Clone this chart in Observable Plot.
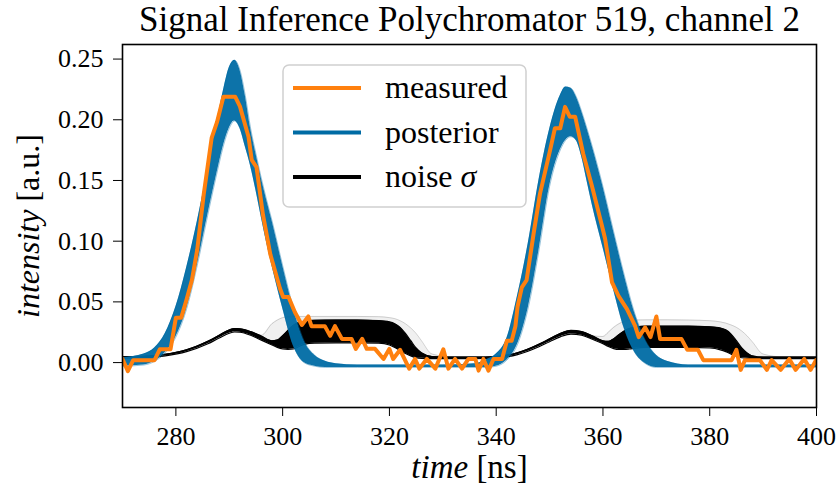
<!DOCTYPE html>
<html><head><meta charset="utf-8">
<script src="https://cdn.jsdelivr.net/npm/d3@7"></script>
<script src="https://cdn.jsdelivr.net/npm/@observablehq/plot@0.6"></script>
<style>
body{margin:0;background:#fff;}
#wrap{position:relative;width:837px;height:495px;}
</style></head><body><div id="wrap"></div><script>
// measured signal (time ns, intensity a.u.)
const measT=[270.0,271.0,272.0,276.0,277.0,279.0,280.0,281.0,282.0,283.0,284.0,285.2,286.7,287.7,288.9,291.1,292.0,293.6,294.2,295.1,296.3,297.7,299.5,300.1,301.1,302.3,303.6,304.8,305.4,307.9,308.9,309.8,311.1,312.9,313.7,314.9,315.75,317.3,318.9,320.0,320.7,322.0,323.7,324.8,325.6,327.0,328.6,330.1,331.05,332.3,333.6,334.8,336.1,336.7,337.6,338.55,339.5,341.1,342.0,342.9,343.6,344.0,344.8,345.7,347.0,348.2,350.1,351.0,352.0,352.9,353.8,354.8,356.3,357.9,359.8,360.4,361.7,362.9,364.5,366.0,366.7,367.9,368.9,370.0,370.7,374.7,375.8,377.8,378.8,384.1,385.0,385.8,386.6,389.4,390.7,391.6,393.3,394.9,396.1,397.7,398.9,399.9];
const measV=[0.003,-0.007,0.002,0.002,0.011,0.011,0.037,0.037,0.052,0.068,0.093,0.138,0.185,0.198,0.219,0.219,0.211,0.186,0.167,0.161,0.122,0.089,0.061,0.054,0.054,0.0415,0.031,0.038,0.030,0.030,0.022,0.030,0.0195,0.0195,0.0113,0.0195,0.0113,0.0113,0.003,0.0113,0.003,0.0105,-0.005,0.003,-0.005,0.003,-0.005,0.011,-0.005,0.003,-0.005,0.003,0.003,-0.0066,0.003,-0.0066,0.003,0.003,0.018,0.018,0.030,0.046,0.062,0.068,0.106,0.139,0.175,0.193,0.193,0.2106,0.2024,0.2024,0.172,0.146,0.113,0.102,0.066,0.055,0.044,0.0305,0.021,0.029,0.021,0.038,0.0195,0.0195,0.0105,0.0105,0.002,0.002,0.0105,-0.006,0.002,0.002,-0.006,0.002,-0.006,0.003,-0.006,0.003,-0.006,0.002];

// posterior sample envelope
const postT=[270,274,276,278,280,282,284,286,288,289,290,291,292,293,294,295,296,297,298,300,302,304,306,308,310,314,320,330,336,338,340,342,344,346,348,350,352,353,354,355,356,357,358,360,362,364,366,368,370,372,376,384,400];
const postHi=[0.004,0.007,0.012,0.024,0.046,0.078,0.116,0.160,0.205,0.226,0.243,0.249,0.241,0.220,0.193,0.172,0.152,0.134,0.117,0.080,0.045,0.018,0.006,0.001,-0.001,-0.002,-0.002,-0.002,-0.001,0.002,0.007,0.020,0.055,0.098,0.150,0.192,0.220,0.227,0.226,0.219,0.207,0.193,0.178,0.145,0.108,0.072,0.040,0.018,0.006,0.001,-0.002,-0.002,-0.002];
const postLo=[-0.003,-0.002,0.001,0.008,0.021,0.044,0.080,0.122,0.162,0.180,0.193,0.199,0.193,0.178,0.162,0.142,0.120,0.099,0.080,0.045,0.014,0.000,-0.003,-0.004,-0.004,-0.004,-0.004,-0.004,-0.004,-0.004,-0.003,0.002,0.015,0.045,0.092,0.145,0.175,0.183,0.186,0.183,0.170,0.150,0.130,0.095,0.060,0.028,0.008,-0.001,-0.004,-0.004,-0.004,-0.004,-0.004];

// noise sigma sample envelope
const noiseT=[270,274,278,282,286,288,290,291,292,294,296,298,299,300,301,302,303,304,306,310,314,318,320,321,322,323,324,325,326,328,332,336,340,344,348,350,352,354,356,358,360,361,362,363,364,365,366,368,372,376,380,382,383,384,385,386,387,388,390,394,400];
const noiseHi=[0.0048,0.0052,0.0068,0.0105,0.0175,0.0222,0.0268,0.0280,0.0278,0.0255,0.0218,0.0180,0.0185,0.0220,0.0265,0.0305,0.0330,0.0340,0.0348,0.0350,0.0350,0.0345,0.0335,0.0320,0.0290,0.0240,0.0180,0.0120,0.0080,0.0050,0.0045,0.0045,0.0050,0.0080,0.0150,0.0195,0.0240,0.0265,0.0255,0.0220,0.0180,0.0175,0.0195,0.0230,0.0260,0.0280,0.0290,0.0300,0.0300,0.0300,0.0295,0.0285,0.0270,0.0235,0.0180,0.0120,0.0080,0.0055,0.0045,0.0045,0.0045];
const noiseLo=[0.0035,0.0040,0.0055,0.0090,0.0155,0.0200,0.0242,0.0252,0.0250,0.0225,0.0185,0.0145,0.0125,0.0112,0.0108,0.0112,0.0130,0.0150,0.0160,0.0162,0.0162,0.0160,0.0145,0.0125,0.0100,0.0075,0.0055,0.0040,0.0035,0.0033,0.0033,0.0033,0.0038,0.0065,0.0130,0.0172,0.0212,0.0235,0.0225,0.0192,0.0155,0.0132,0.0115,0.0108,0.0108,0.0112,0.0118,0.0125,0.0125,0.0125,0.0120,0.0105,0.0090,0.0070,0.0050,0.0040,0.0035,0.0033,0.0033,0.0033,0.0033];
const noiseFaint=[0.0048,0.0052,0.0068,0.0105,0.0175,0.0222,0.0268,0.0280,0.0278,0.0255,0.0225,0.0320,0.0350,0.0370,0.0378,0.0380,0.0380,0.0380,0.0380,0.0380,0.0380,0.0378,0.0370,0.0362,0.0345,0.0320,0.0285,0.0240,0.0180,0.0070,0.0045,0.0045,0.0050,0.0080,0.0150,0.0195,0.0240,0.0265,0.0255,0.0220,0.0215,0.0250,0.0290,0.0320,0.0340,0.0348,0.0350,0.0352,0.0352,0.0350,0.0345,0.0335,0.0325,0.0310,0.0290,0.0260,0.0220,0.0170,0.0070,0.0045,0.0045];

const xTicks=[280,300,320,340,360,380,400];
const yTicks=[0,0.05,0.10,0.15,0.20,0.25];
const titleText="Signal Inference Polychromator 519, channel 2";
const legendLabels=["measured","posterior","noise"];
const colors={measured:"#ff800e",posterior:"#006ba4",noise:"#000000"};

const meas=measT.map((t,i)=>({t,v:measV[i]}));
const post=postT.map((t,i)=>({t,hi:postHi[i],lo:postLo[i]}));
const noise=noiseT.map((t,i)=>({t,hi:noiseHi[i],lo:noiseLo[i],faint:noiseFaint[i]}));

const FONT="'Liberation Serif', 'Times New Roman', serif";
const chart=Plot.plot({
  width:837,height:495,marginLeft:122,marginRight:21,marginTop:44,marginBottom:88,
  style:{fontFamily:FONT,fontSize:"26px",color:"black",background:"white"},
  x:{domain:[270,400],ticks:xTicks,tickSize:9,tickPadding:10,label:null,tickFormat:d3.format("d")},
  y:{domain:[-0.037,0.262],ticks:yTicks,tickFormat:d3.format(".2f"),tickSize:9,tickPadding:10,label:null},
  marks:[
    Plot.areaY(noise,{x:"t",y1:"hi",y2:"faint",fill:"#999",fillOpacity:0.15,curve:"monotone-x",clip:true}),
    Plot.line(noise,{x:"t",y:"faint",stroke:"#888",strokeWidth:0.7,strokeOpacity:0.5,curve:"monotone-x",clip:true}),
    Plot.areaY(noise,{x:"t",y1:"lo",y2:"hi",fill:colors.noise,curve:"monotone-x",clip:true}),
    Plot.line(noise,{x:"t",y:"hi",stroke:colors.noise,strokeWidth:1.2,curve:"monotone-x",clip:true}),
    Plot.line(noise,{x:"t",y:"lo",stroke:colors.noise,strokeWidth:1.2,curve:"monotone-x",clip:true}),
    Plot.areaY(post,{x:"t",y1:"lo",y2:"hi",fill:colors.posterior,fillOpacity:0.95,curve:"monotone-x",clip:true}),
    Plot.line(post,{x:"t",y:"hi",stroke:colors.posterior,strokeWidth:1,strokeOpacity:0.4,curve:"monotone-x",clip:true}),
    Plot.line(post,{x:"t",y:"lo",stroke:colors.posterior,strokeWidth:1,strokeOpacity:0.4,curve:"monotone-x",clip:true}),
    Plot.line(meas,{x:"t",y:"v",stroke:colors.measured,strokeWidth:4,strokeLinejoin:"round",clip:true}),
    Plot.frame({stroke:"black",strokeWidth:1.6}),
    Plot.text([titleText],{frameAnchor:"top",lineAnchor:"middle",dy:-25,fontSize:35}),
    Plot.text(["time [ns]"],{frameAnchor:"bottom",lineAnchor:"middle",dy:60,fontSize:33}),
    Plot.text(["intensity [a.u.]"],{frameAnchor:"left",textAnchor:"middle",lineAnchor:"middle",dx:-94,rotate:-90,fontSize:32})
  ]
});
document.getElementById("wrap").appendChild(chart);

// mixed italic axis labels
const svg=d3.select(chart);
svg.selectAll("text").each(function(){
  const s=this.textContent;
  if(s==="time [ns]"||s==="intensity [a.u.]"){
    const parts=s.split(" ");
    const el=d3.select(this); el.text(null);
    el.append("tspan").attr("font-style","italic").text(parts[0]);
    el.append("tspan").text(" "+parts[1]);
  }
});

// legend
const lg=svg.append("g").attr("font-family",FONT).attr("font-size",32).attr("text-anchor","start");
lg.append("rect").attr("x",283).attr("y",65).attr("width",243).attr("height",142).attr("rx",6)
  .attr("fill","white").attr("fill-opacity",0.8).attr("stroke","#d0d0d0").attr("stroke-width",1.5);
legendLabels.forEach((lab,i)=>{
  const y=88+i*44.5;
  lg.append("line").attr("x1",293).attr("x2",361).attr("y1",y).attr("y2",y)
    .attr("stroke",colors[lab]).attr("stroke-width",4);
  const t=lg.append("text").attr("x",385).attr("y",y+10).attr("fill","black");
  t.append("tspan").text(lab);
  if(lab==="noise"){ t.append("tspan").text(" "); t.append("tspan").attr("font-style","italic").text("σ"); }
});
</script></body></html>
